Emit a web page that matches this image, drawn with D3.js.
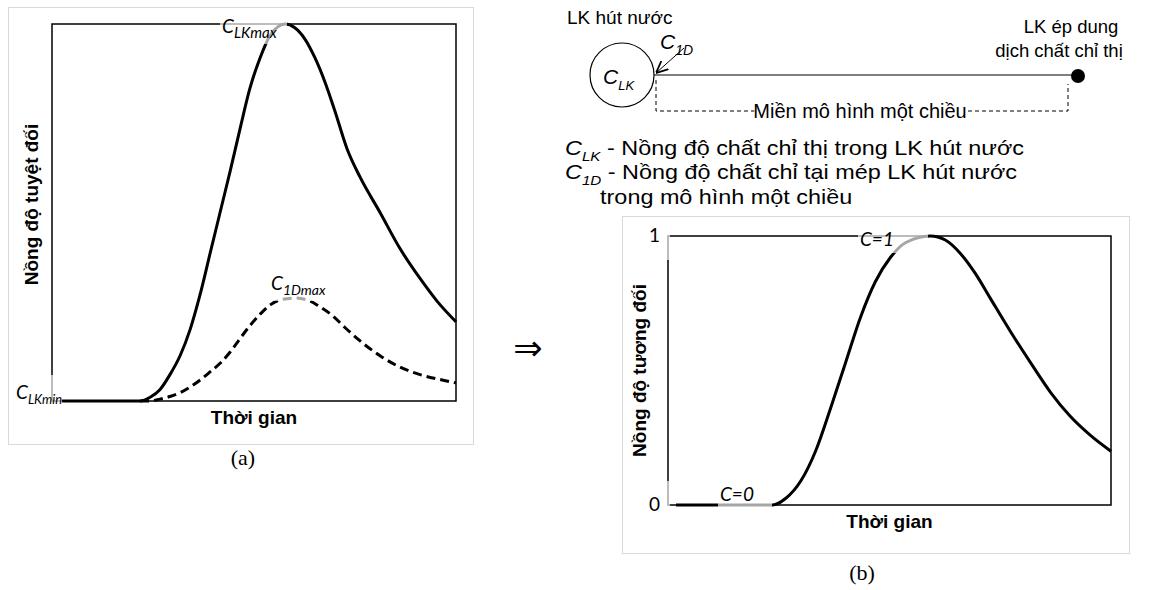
<!DOCTYPE html>
<html>
<head>
<meta charset="utf-8">
<script src="https://cdn.jsdelivr.net/npm/d3@7"></script>
<style>
  body { margin: 0; background: #fff; }
  svg { display: block; }
  .sans { font-family: "Liberation Sans", Arial, sans-serif; }
  .cal  { font-family: Lato, "Open Sans", sans-serif; font-style: italic; }
</style>
</head>
<body>
<svg id="chart" width="1149" height="590"></svg>
<script>
// panel (a): absolute concentration, time in relative units 0..100
var time_lk = [2.5, 21.8, 24.3, 26.7, 29.2, 31.7, 34.2, 36.6, 39.1, 41.6, 44.1, 46.5, 49.0, 51.5, 54.0,
               57.7, 60.1, 62.6, 65.1, 67.6, 70.0, 73.0, 76.2, 81.2, 86.1, 91.1, 95.3, 100];
var c_lk    = [0, 0, 0.01, 0.03, 0.07, 0.12, 0.19, 0.28, 0.39, 0.5, 0.61, 0.72, 0.83, 0.91, 0.97,
               1.0, 0.99, 0.96, 0.91, 0.845, 0.77, 0.67, 0.595, 0.5, 0.405, 0.325, 0.265, 0.21];

var time_1d = [21.8, 24.3, 26.7, 29.2, 31.7, 34.2, 36.6, 39.1, 41.6, 44.1, 46.5, 49.0, 51.5, 54.0, 56.4,
               60.1, 63.9, 66.3, 69.6, 72.5, 76.2, 81.2, 86.1, 91.1, 96.0, 100];
var c_1d    = [0, 0, 0.005, 0.012, 0.022, 0.037, 0.055, 0.077, 0.1, 0.13, 0.165, 0.2, 0.23, 0.255, 0.268,
               0.273, 0.265, 0.25, 0.225, 0.195, 0.16, 0.12, 0.09, 0.07, 0.057, 0.048];

// panel (b): relative concentration
var time_rel = [1.8, 23.6, 26.6, 30.0, 33.3, 36.7, 40.1, 43.5, 46.8, 50.2, 53.6, 59.2, 62.6, 66.0,
                69.4, 72.7, 77.3, 81.8, 86.3, 90.8, 95.3, 100];
var c_rel    = [0, 0, 0.025, 0.09, 0.2, 0.36, 0.53, 0.7, 0.83, 0.92, 0.975, 1.0, 0.985, 0.935,
                0.86, 0.77, 0.645, 0.53, 0.42, 0.33, 0.26, 0.2];
var rel_ticks = [0, 1];

var title_a_y = 'Nồng độ tuyệt đối';
var title_b_y = 'Nồng độ tương đối';
var title_x   = 'Thời gian';
var legend_lines = [
  ['LK', ' - Nồng độ chất chỉ thị trong LK hút nước'],
  ['1D', ' - Nồng độ chất chỉ tại mép LK hút nước'],
  [null, 'trong mô hình một chiều']
];

var svg = d3.select('#chart');

var to_pts = (ts, vs) => ts.map((t, i) => ({t: t, v: vs[i]}));

// label with half transparent box behind it, like the office text boxes
var c_label = (g, x, y, main, sub, size, sub_size, box) => {
  g.append('rect')
    .attr('x', box[0]).attr('y', box[1])
    .attr('width', box[2]).attr('height', box[3])
    .attr('fill', '#fff').attr('opacity', 0.65);
  var t = g.append('text')
    .attr('class', 'cal')
    .attr('x', x).attr('y', y)
    .attr('font-size', size);
  t.append('tspan').text(main);
  if (sub) {
    t.append('tspan')
      .attr('font-size', sub_size)
      .attr('dy', size * 0.28)
      .text(sub);
  }
  return t;
};

/* ---------- panel (a) ---------- */
var ga = svg.append('g');

ga.append('rect')
  .attr('x', 8.5).attr('y', 7.5).attr('width', 465).attr('height', 437)
  .attr('fill', 'none').attr('stroke', '#d9d9d9');

var xa = d3.scaleLinear().domain([0, 100]).range([52, 456]);
var ya = d3.scaleLinear().domain([0, 1]).range([401, 24]);

ga.append('rect')
  .attr('x', xa(0)).attr('y', ya(1))
  .attr('width', xa(100) - xa(0)).attr('height', ya(0) - ya(1))
  .attr('fill', 'none').attr('stroke', '#000').attr('stroke-width', 1.5);

var line_a = d3.line()
  .x((d) => xa(d.t))
  .y((d) => ya(d.v))
  .curve(d3.curveMonotoneX);

ga.append('path')
  .attr('d', line_a(to_pts(time_lk, c_lk)))
  .attr('fill', 'none').attr('stroke', '#000').attr('stroke-width', 3);

ga.append('path')
  .attr('d', line_a(to_pts(time_1d, c_1d)))
  .attr('fill', 'none').attr('stroke', '#000').attr('stroke-width', 3)
  .attr('stroke-dasharray', '9,5');

c_label(ga, 222, 33, 'C', 'LKmax', 19, 15, [220, 16, 67, 28]);
c_label(ga, 271, 290, 'C', '1Dmax', 19, 14, [269, 273, 58, 28]);
c_label(ga, 16, 399, 'C', 'LKmin', 19, 13, [14, 375, 48, 32]);

ga.append('text')
  .attr('class', 'sans')
  .attr('transform', `translate(38, ${ (ya(0) + ya(1)) / 2 - 8 }) rotate(-90)`)
  .attr('text-anchor', 'middle')
  .attr('font-size', 19).attr('font-weight', 'bold')
  .text(title_a_y);

ga.append('text')
  .attr('class', 'sans')
  .attr('x', (xa(0) + xa(100)) / 2).attr('y', 424)
  .attr('text-anchor', 'middle')
  .attr('font-size', 19).attr('font-weight', 'bold')
  .text(title_x);

ga.append('text')
  .attr('x', 243).attr('y', 465)
  .attr('text-anchor', 'middle')
  .attr('font-family', '"Liberation Serif", serif')
  .attr('font-size', 22)
  .text('(a)');

/* ---------- arrow between panels ---------- */
svg.append('text')
  .attr('x', 528).attr('y', 360)
  .attr('text-anchor', 'middle')
  .attr('font-family', '"DejaVu Sans", sans-serif')
  .attr('font-size', 35)
  .text('⇒');

/* ---------- scheme above panel (b) ---------- */
var gs = svg.append('g').attr('class', 'sans');

var defs = svg.append('defs');
defs.append('marker')
  .attr('id', 'head')
  .attr('viewBox', '0 0 10 10')
  .attr('refX', 10).attr('refY', 5)
  .attr('markerWidth', 12).attr('markerHeight', 12)
  .attr('markerUnits', 'userSpaceOnUse')
  .attr('orient', 'auto')
  .append('path')
  .attr('d', 'M0,0.5 L10,5 L0,9.5')
  .attr('fill', 'none').attr('stroke', '#000').attr('stroke-width', 1.5);

gs.append('text').attr('x', 567).attr('y', 24).attr('font-size', 19).text('LK hút nước');

gs.append('circle')
  .attr('cx', 622).attr('cy', 75).attr('r', 32)
  .attr('fill', 'none').attr('stroke', '#000').attr('stroke-width', 1.2);

gs.append('line')
  .attr('x1', 654).attr('y1', 75).attr('x2', 1078).attr('y2', 75)
  .attr('stroke', '#000').attr('stroke-width', 1.2);

gs.append('circle')
  .attr('cx', 1078).attr('cy', 76).attr('r', 7).attr('fill', '#000');

gs.append('line')
  .attr('x1', 684).attr('y1', 48).attr('x2', 656).attr('y2', 73)
  .attr('stroke', '#000').attr('stroke-width', 1)
  .attr('marker-end', 'url(#head)');

var sub_text = (g, x, y, main, sub, rest, size, sub_size) => {
  var t = g.append('text').attr('x', x).attr('y', y).attr('font-size', size);
  t.append('tspan').attr('font-style', 'italic').text(main);
  t.append('tspan').attr('font-style', 'italic')
    .attr('font-size', sub_size).attr('dy', size * 0.28).text(sub);
  if (rest) t.append('tspan').attr('dy', -size * 0.28).text(rest);
  return t;
};

sub_text(gs, 660, 49, 'C', '1D', null, 21, 14);
sub_text(gs, 603, 84, 'C', 'LK', null, 21, 13);

gs.append('path')
  .attr('d', 'M656,80 V111 H1068 V84')
  .attr('fill', 'none').attr('stroke', '#000').attr('stroke-width', 1)
  .attr('stroke-dasharray', '4,3');

var mid = gs.append('text')
  .attr('x', 860).attr('y', 118)
  .attr('text-anchor', 'middle').attr('font-size', 20)
  .text('Miền mô hình một chiều');
var mb = mid.node().getBBox();
gs.insert('rect', 'text:last-child')
  .attr('x', mb.x + 1).attr('y', 104).attr('width', mb.width - 2).attr('height', 14)
  .attr('fill', '#fff');

gs.append('text').attr('x', 1071).attr('y', 33)
  .attr('text-anchor', 'middle').attr('font-size', 18.5).text('LK ép dung');
gs.append('text').attr('x', 1059).attr('y', 57)
  .attr('text-anchor', 'middle').attr('font-size', 18.5).text('dịch chất chỉ thị');

// legend text in the source is a little wider than plain Arial
var gl = gs.append('g').attr('transform', 'translate(565, 0) scale(1.17, 1)');
legend_lines.forEach((l, i) => {
  var y = 155 + i * 24.5;
  if (l[0]) sub_text(gl, 0, y, 'C', l[0], l[1], 20, 13);
  else gl.append('text').attr('x', 30).attr('y', y).attr('font-size', 20).text(l[1]);
});

/* ---------- panel (b) ---------- */
var gb = svg.append('g');

gb.append('rect')
  .attr('x', 622.5).attr('y', 216.5).attr('width', 507).attr('height', 337)
  .attr('fill', 'none').attr('stroke', '#d9d9d9');

var xb = d3.scaleLinear().domain([0, 100]).range([668, 1111]);
var yb = d3.scaleLinear().domain([0, 1]).range([505, 236]);

gb.append('rect')
  .attr('x', xb(0)).attr('y', yb(1))
  .attr('width', xb(100) - xb(0)).attr('height', yb(0) - yb(1))
  .attr('fill', 'none').attr('stroke', '#000').attr('stroke-width', 1.5);

var line_b = d3.line()
  .x((d) => xb(d.t))
  .y((d) => yb(d.v))
  .curve(d3.curveMonotoneX);

gb.append('path')
  .attr('d', line_b(to_pts(time_rel, c_rel)))
  .attr('fill', 'none').attr('stroke', '#000').attr('stroke-width', 3);

// tick label boxes also wash out the axis a little
gb.selectAll('rect.tick-box')
  .data(rel_ticks)
  .enter()
  .append('rect')
  .attr('class', 'tick-box')
  .attr('x', 648).attr('y', (d) => d === 1 ? yb(d) - 2 : yb(d) - 24)
  .attr('width', 22).attr('height', 26)
  .attr('fill', '#fff').attr('opacity', 0.65);

gb.selectAll('text.tick')
  .data(rel_ticks)
  .enter()
  .append('text')
  .attr('class', 'tick')
  .attr('x', 660).attr('y', (d) => yb(d) + 6)
  .attr('text-anchor', 'end')
  .attr('font-family', 'Lato, "Open Sans", sans-serif')
  .attr('font-size', 19)
  .text((d) => d);

c_label(gb, 860, 246, 'C=1', null, 19, 0, [858, 229, 70, 24]);
c_label(gb, 720, 501, 'C=0', null, 19, 0, [718, 484, 54, 24]);

gb.append('text')
  .attr('class', 'sans')
  .attr('transform', `translate(646, ${ (yb(0) + yb(1)) / 2 }) rotate(-90)`)
  .attr('text-anchor', 'middle')
  .attr('font-size', 19).attr('font-weight', 'bold')
  .text(title_b_y);

gb.append('text')
  .attr('class', 'sans')
  .attr('x', (xb(0) + xb(100)) / 2).attr('y', 528)
  .attr('text-anchor', 'middle')
  .attr('font-size', 19).attr('font-weight', 'bold')
  .text(title_x);

gb.append('text')
  .attr('x', 862).attr('y', 580)
  .attr('text-anchor', 'middle')
  .attr('font-family', '"Liberation Serif", serif')
  .attr('font-size', 22)
  .text('(b)');
</script>
</body>
</html>
